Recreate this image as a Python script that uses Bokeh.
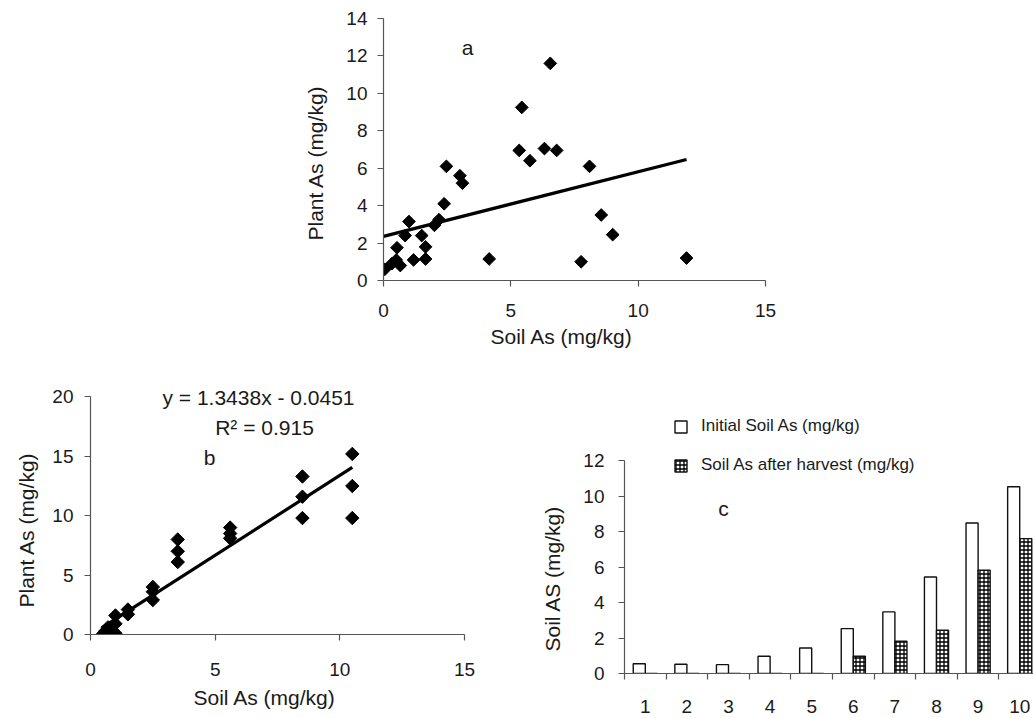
import math
from bokeh.plotting import figure
from bokeh.models import (Range1d, FixedTicker, Label, Legend, LegendItem, Spacer,
                          Title, ColumnDataSource)
from bokeh.layouts import row, column
from bokeh.transform import dodge
from bokeh.embed import file_html
from bokeh.resources import INLINE

# ---------------- data ----------------
# panel a: plant As vs soil As (all samples)
a_soil = [0.05, 0.33, 0.50, 0.66, 0.53, 0.85, 1.00, 1.18, 1.50, 1.65, 1.65, 2.00, 2.18,
          2.38, 2.47, 3.00, 3.10, 4.15, 5.33, 5.43, 5.75, 6.32, 6.55, 6.80, 7.76, 8.09,
          8.55, 9.00, 11.90]
a_plant = [0.60, 0.90, 1.10, 0.80, 1.75, 2.40, 3.15, 1.10, 2.40, 1.80, 1.15, 2.95, 3.25,
           4.10, 6.10, 5.60, 5.20, 1.15, 6.95, 9.25, 6.40, 7.05, 11.60, 6.95, 1.00, 6.10,
           3.50, 2.45, 1.20]
a_fit_intercept = 2.36
a_fit_slope = 0.345

# panel b: plant As vs soil As (pot experiment)
b_soil = [0.5, 0.6, 0.7, 1.0, 1.0, 1.0, 1.5, 1.5, 2.5, 2.5, 2.5, 3.5, 3.5, 3.5,
          5.6, 5.6, 5.6, 8.5, 8.5, 8.5, 10.5, 10.5, 10.5]
b_plant = [0.05, 0.3, 0.6, 0.1, 0.9, 1.6, 1.7, 2.1, 2.9, 3.6, 4.0, 6.1, 7.0, 8.0,
           8.1, 8.5, 9.0, 9.8, 11.6, 13.3, 9.8, 12.5, 15.2]
b_fit_slope = 1.3438
b_fit_intercept = -0.0451
b_equation = "y = 1.3438x - 0.0451"
b_r2 = "R\u00b2 = 0.915"

# panel c: soil As before / after harvest
treatments = [1, 2, 3, 4, 5, 6, 7, 8, 9, 10]
initial_soil = [0.55, 0.52, 0.50, 0.97, 1.44, 2.53, 3.47, 5.44, 8.48, 10.52]
after_harvest = [0.0, 0.0, 0.0, 0.0, 0.0, 0.97, 1.82, 2.44, 5.82, 7.60]

a_xticks = [0, 5, 10, 15]
a_yticks = [0, 2, 4, 6, 8, 10, 12, 14]
b_xticks = [0, 5, 10, 15]
b_yticks = [0, 5, 10, 15, 20]
c_yticks = [0, 2, 4, 6, 8, 10, 12]
c_boundaries = [t - 0.5 for t in treatments]

# ---------------- style ----------------
FONT = "Liberation Sans"
INK = "#1a1a1a"
AXC = "#555555"
TICK_FS = "19px"
TITLE_FS = "21px"


def base_fig(fw, fh, l, r, t, b, xr, yr):
    p = figure(frame_width=fw, frame_height=fh, min_border_left=l, min_border_right=r,
               min_border_top=t, min_border_bottom=b, x_range=xr, y_range=yr,
               output_backend="svg", toolbar_location=None, title=None)
    p.grid.visible = False
    p.outline_line_color = None
    p.background_fill_color = "white"
    p.border_fill_color = "white"
    for ax in (p.xaxis[0], p.yaxis[0]):
        ax.axis_line_color = AXC
        ax.axis_line_width = 1.2
        ax.major_tick_line_color = AXC
        ax.major_tick_line_width = 1.2
        ax.minor_tick_line_color = None
        ax.major_tick_in = 0
        ax.major_tick_out = 6
        ax.major_label_text_font = FONT
        ax.major_label_text_font_size = TICK_FS
        ax.major_label_text_color = INK
    return p


def side_title(p, side, text, offset, standoff):
    p.add_layout(Title(text=text, align="left", offset=offset, standoff=standoff,
                       text_font=FONT, text_font_size=TITLE_FS,
                       text_font_style="normal", text_color=INK), side)


def note(p, x, y, text, size=TITLE_FS):
    p.add_layout(Label(x=x, y=y, text=text, text_font=FONT, text_font_size=size,
                       text_color=INK, text_align="center", text_baseline="middle"))


# ---------------- panel a ----------------
a_sx, a_sy = 382 / 15.0, 262 / 14.0          # px per unit
pa = base_fig(382, 262, 108, 30, 18, 75, Range1d(0, 15), Range1d(0, 14))
pa.xaxis[0].ticker = FixedTicker(ticks=a_xticks)
pa.yaxis[0].ticker = FixedTicker(ticks=a_yticks)
pa.xaxis[0].major_label_standoff = 17
pa.yaxis[0].major_label_standoff = 10
side_title(pa, "below", "Soil As (mg/kg)", 107, 6)
side_title(pa, "left", "Plant As (mg/kg)", 40, 34)
a_line_x = [0, max(a_soil)]
pa.line(a_line_x, [a_fit_intercept + a_fit_slope * v for v in a_line_x],
        line_color="black", line_width=3.2)
pa.scatter(a_soil, a_plant, marker="square", angle=math.pi / 4, size=9,
           fill_color="black", line_color="black")
note(pa, (467 - 383) / a_sx, (280 - 47) / a_sy, "a")

# ---------------- panel b ----------------
b_sx, b_sy = 374 / 15.0, 237.6 / 20.0
b_ytop = (634 - 380) / b_sy
pb = base_fig(374, 254, 89, 30, 25, 84, Range1d(0, 15), Range1d(0, b_ytop))
pb.xaxis[0].ticker = FixedTicker(ticks=b_xticks)
pb.yaxis[0].ticker = FixedTicker(ticks=b_yticks)
pb.yaxis[0].bounds = (b_yticks[0], b_yticks[-1])
pb.xaxis[0].major_label_standoff = 22
pb.yaxis[0].major_label_standoff = 11
side_title(pb, "below", "Soil As (mg/kg)", 103, 10)
side_title(pb, "left", "Plant As (mg/kg)", 27, 24)
b_line_x = [0.45, max(b_soil)]
pb.line(b_line_x, [b_fit_intercept + b_fit_slope * v for v in b_line_x],
        line_color="black", line_width=3.2)
pb.scatter(b_soil, b_plant, marker="square", angle=math.pi / 4, size=9.5,
           fill_color="black", line_color="black")
note(pb, (257 - 89) / b_sx, (634 - 397) / b_sy, b_equation)
note(pb, (263 - 89) / b_sx, (634 - 427) / b_sy, b_r2)
note(pb, (208 - 89) / b_sx, (634 - 457) / b_sy, "b")

# ---------------- panel c ----------------
c_sx, c_sy = 41.6, 17.75
c_ytop = (673 - 380) / c_sy
pc = base_fig(410, 293, 103, 0, 25, 45,
              Range1d(0.5, 0.5 + 410 / c_sx), Range1d(0, c_ytop))
pc.yaxis[0].ticker = FixedTicker(ticks=c_yticks)
pc.yaxis[0].bounds = (c_yticks[0], c_yticks[-1])
pc.yaxis[0].major_label_standoff = 14
xa = pc.xaxis[0]
xa.ticker = FixedTicker(ticks=treatments, minor_ticks=c_boundaries)
xa.major_tick_out = 0
xa.minor_tick_line_color = AXC
xa.minor_tick_line_width = 1.2
xa.minor_tick_in = 0
xa.minor_tick_out = 6
xa.major_label_standoff = 20
side_title(pc, "left", "Soil AS (mg/kg)", 22, 34)

bar_w = 0.29
cds = ColumnDataSource(dict(x=treatments, initial=initial_soil, after=after_harvest))
r1 = pc.vbar(x=dodge("x", -bar_w / 2, range=pc.x_range), top="initial", width=bar_w,
             source=cds, fill_color="white", line_color="#111111", line_width=1.4)
r2 = pc.vbar(x=dodge("x", bar_w / 2, range=pc.x_range), top="after", width=bar_w,
             source=cds, fill_color="white", line_color="#111111", line_width=1.4,
             hatch_pattern="cross", hatch_scale=4, hatch_weight=1.3, hatch_color="black")
legend = Legend(items=[LegendItem(label="Initial Soil As (mg/kg)", renderers=[r1]),
                       LegendItem(label="Soil As after harvest (mg/kg)", renderers=[r2])],
                location=(49, 198), padding=0, margin=0, spacing=19,
                glyph_width=15, glyph_height=15, label_height=15, label_standoff=13,
                border_line_color=None, background_fill_alpha=0,
                label_text_font=FONT, label_text_font_size="17px", label_text_color=INK)
pc.add_layout(legend)
note(pc, 0.5 + (722 - 623) / c_sx, (673 - 508) / c_sy, "c")

layout = column(row(Spacer(width=275, height=355), pa),
                row(pb, Spacer(width=27, height=363), pc))

open("out.html", "w").write(file_html(layout, INLINE))
